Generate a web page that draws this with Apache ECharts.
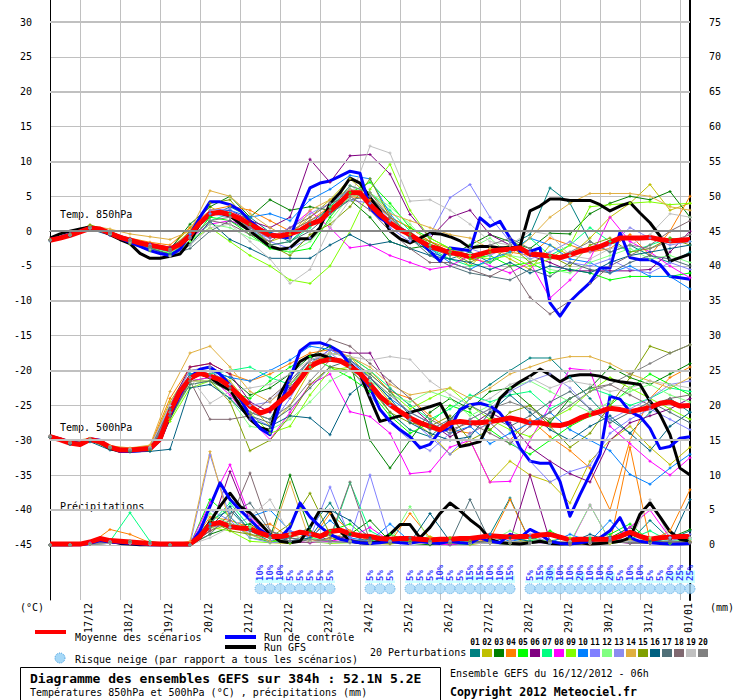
<!DOCTYPE html>
<html>
<head>
<meta charset="utf-8">
<title>Diagramme des ensembles GEFS</title>
<script src="https://cdn.jsdelivr.net/npm/echarts@6.0.0/dist/echarts.min.js"></script>
<style>
  html, body { margin: 0; padding: 0; background: #fff; }
  #chart { width: 740px; height: 700px; }
</style>
</head>
<body>
<div id="chart"></div>
<script>
// echeances (heures depuis le 16/12 06h)
var hours6 = [0,6,12,18,24,30,36,42,48,54,60,66,72,78,84,90,96,102,108,114,120,126,132,138,144,150,156,162,168,174,180,186,192,198,204,210,216,222,228,234,240,246,252,258,264,270,276,282,288,294,300,306,312,318,324,330,336,342,348,354,360,366,372,378,384];
var hours12 = [0,12,24,36,48,60,72,84,96,108,120,132,144,156,168,180,192,204,216,228,240,252,264,276,288,300,312,324,336,348,360,372,384];

// graduations
var dayHours = [18,42,66,90,114,138,162,186,210,234,258,282,306,330,354,378];
var dayLabels = ['17/12','18/12','19/12','20/12','21/12','22/12','23/12','24/12','25/12','26/12','27/12','28/12','29/12','30/12','31/12','01/01'];
var tempTicks = [-45,-40,-35,-30,-25,-20,-15,-10,-5,0,5,10,15,20,25,30];
var mmTicks = [0,5,10,15,20,25,30,35,40,45,50,55,60,65,70,75];

// moyenne / controle / GFS - 850hPa
var mean850 = [-1.3,-1.0,-0.6,-0.1,0.4,0.3,-0.3,-0.9,-1.3,-1.7,-2.0,-2.3,-2.6,-1.9,-0.6,1.2,2.5,2.7,2.4,1.8,1.0,0.2,-0.6,-0.7,-0.4,0.1,1.0,1.5,2.9,4.1,5.5,5.5,3.8,2.4,1.2,0.2,-0.5,-1.4,-2.2,-2.6,-3.1,-3.3,-3.7,-3.3,-2.9,-2.7,-2.6,-2.4,-3.3,-3.4,-3.6,-3.8,-3.4,-2.9,-2.6,-2.2,-1.6,-1.0,-1.0,-1.0,-0.9,-1.2,-1.4,-1.3,-1.2];
var ctrl850 = [-1.2,-0.9,-0.4,0.0,0.5,0.3,-0.4,-1.0,-1.6,-2.2,-2.8,-3.2,-3.5,-2.6,-0.5,2.0,4.2,4.2,3.8,3.0,1.5,0.3,-0.3,-0.8,-1.0,2.9,6.2,6.9,7.2,7.9,8.6,8.3,3.3,1.9,1.0,0.4,-0.4,-1.4,-2.9,-4.3,-2.4,-2.6,-2.8,1.9,0.7,1.4,-1.0,-2.9,-2.9,-2.4,-10.3,-12.2,-10.1,-8.7,-7.4,-5.3,-5.3,-0.2,-3.8,-4.1,-4.1,-4.8,-6.5,-6.7,-6.9];
var gfs850 = [-1.0,-0.4,0.0,0.3,0.6,0.3,-0.5,-1.2,-1.8,-3.2,-3.9,-3.9,-3.6,-3.3,-1.5,1.1,2.6,2.6,2.2,1.1,0.0,-1.1,-2.2,-2.6,-2.4,-1.1,-1.1,0.5,4.0,5.5,7.6,6.9,4.8,2.9,0.0,-1.1,-1.7,-1.0,-0.3,-0.4,-0.8,-1.4,-2.4,-2.2,-2.2,-2.4,-2.4,-2.2,2.9,3.6,4.6,4.6,4.4,4.4,4.4,3.8,2.9,3.6,4.1,2.6,1.2,-0.7,-4.3,-3.8,-3.3];

// 500hPa
var mean500 = [-29.5,-29.9,-30.4,-30.6,-29.9,-30.2,-31.0,-31.4,-31.4,-31.3,-31.2,-29.8,-25.9,-23.0,-21.1,-20.4,-20.8,-21.3,-22.3,-23.7,-25.1,-26.1,-25.6,-24.4,-23.2,-21.3,-19.4,-18.7,-18.4,-18.6,-19.4,-20.4,-22.0,-23.7,-24.9,-25.9,-26.8,-27.5,-28.0,-28.5,-27.5,-27.3,-27.5,-27.5,-27.3,-27.1,-26.8,-27.1,-27.5,-27.5,-27.8,-27.9,-27.5,-26.8,-26.3,-25.9,-25.4,-25.6,-25.9,-25.6,-25.3,-24.7,-24.5,-25.1,-25.0];
var ctrl500 = [-29.5,-29.8,-30.2,-30.5,-29.8,-30.0,-31.0,-31.6,-31.6,-31.5,-31.3,-30.0,-26.5,-23.5,-21.0,-19.8,-19.5,-20.5,-22.0,-24.0,-26.5,-28.3,-29.2,-24.9,-21.1,-17.2,-16.1,-16.0,-16.5,-17.3,-19.1,-20.6,-22.5,-25.6,-27.3,-28.5,-29.5,-31.1,-30.6,-28.7,-28.3,-25.6,-24.9,-24.7,-25.1,-26.1,-28.0,-31.1,-33.0,-33.3,-33.3,-35.9,-40.9,-37.8,-34.9,-32.0,-23.7,-24.1,-25.9,-26.6,-28.3,-31.2,-30.9,-29.7,-29.5];
var gfs500 = [-29.4,-29.8,-30.3,-30.5,-29.9,-30.3,-31.2,-31.6,-31.5,-31.4,-31.2,-30.0,-26.5,-23.2,-21.3,-20.4,-21.0,-22.0,-22.8,-25.0,-27.0,-28.2,-28.6,-23.4,-20.8,-18.7,-17.9,-17.7,-18.2,-18.6,-19.0,-20.5,-24.0,-27.3,-26.9,-26.5,-26.0,-25.6,-25.2,-24.7,-27.3,-30.9,-30.6,-30.2,-27.3,-24.0,-22.6,-21.6,-20.8,-19.8,-20.6,-21.6,-20.8,-20.6,-20.6,-20.8,-21.3,-21.6,-21.8,-22.0,-24.4,-26.3,-29.2,-34.0,-35.0];

// precipitations (mm / 6h)
var meanPr = [0.1,0.1,0.1,0.1,0.4,0.9,0.6,0.5,0.4,0.3,0.2,0.1,0.1,0.1,0.1,1.2,2.9,3.2,2.6,2.4,2.3,1.7,1.2,1.2,1.4,1.8,1.6,1.2,1.9,2.1,1.6,1.3,1.2,0.9,0.8,0.9,0.9,0.8,0.7,0.8,0.8,0.9,0.9,1.1,1.3,1.2,1.1,1.2,1.2,1.4,1.5,1.1,0.7,0.8,0.8,0.8,0.8,1.2,1.8,1.2,0.8,1.0,1.1,1.2,1.2];
var ctrlPr = [0,0,0,0,0.2,0.6,0.4,0.3,0.2,0.1,0,0,0,0,0,2.0,5.5,8.9,6.5,5.0,3.6,2.2,1.2,1.0,2.5,6.0,4.0,2.6,1.5,0.8,0.5,0.3,0.2,0.3,0.5,0.3,0.2,0.5,0.3,0.2,0.5,0.3,0.2,1.0,0.5,0.3,1.5,1.0,2.2,1.5,0.5,0.2,0.1,0.3,0.5,1.0,2.0,3.9,1.0,0.5,0.3,0.2,0.1,0.1,0.2];
var gfsPr = [0,0,0,0.1,0.3,0.7,0.5,0.2,0.1,0,0,0,0,0,0,1.0,3.3,5.5,7.4,5.5,4.6,3.1,1.5,0.5,0.3,0.5,2.5,5.0,4.8,2.0,0.5,0.3,0.2,0.5,1.5,2.9,2.9,1.0,2.5,4.5,6.0,4.9,3.6,2.5,0.8,0.3,0.2,0.1,0.3,0.5,0.2,0.1,0.2,0.3,0.1,0.2,0.3,0.5,1.0,4.4,6.0,4.0,1.9,0.8,0.5];

// 20 perturbations, pas de 12h
var pert850 = [
  [-1.2,-0.4,0.7,-0.1,-1.2,-2.2,-2.9,-0.4,2.0,3.5,2.0,-0.2,-1.5,1.0,3.5,6.0,4.0,1.5,-1.0,-3.0,-4.0,-3.0,-4.5,-2.0,-0.5,6.2,4.0,-1.5,-3.0,-2.0,-3.5,-4.5,-3.0],
  [-1.3,-0.6,0.5,-0.4,-1.4,-2.0,-2.5,0.5,3.5,2.0,0.0,-1.5,-0.5,2.0,4.5,7.5,5.0,2.0,0.5,-1.5,-3.0,-5.0,-2.5,-4.0,-5.5,-2.0,-3.5,-1.0,2.0,4.0,6.7,3.0,4.0],
  [-1.3,-0.5,0.8,-0.2,-1.6,-2.4,-2.6,1.0,3.5,5.0,2.0,4.5,3.0,3.5,3.0,4.5,2.0,-1.5,-2.5,-2.0,-3.5,-2.0,-0.5,-1.5,-2.5,-0.3,-0.4,2.5,4.0,5.0,4.5,5.7,2.0],
  [-1.2,-0.6,0.5,-0.3,-1.0,-1.6,-2.0,0.5,3.0,3.6,3.0,1.5,0.0,1.5,3.5,5.0,4.5,2.0,0.5,-1.5,-2.5,-4.0,-4.5,-3.0,-3.5,-1.0,-2.0,-3.0,-2.5,-0.5,-3.5,0.0,5.0],
  [-1.3,-0.6,0.4,-0.4,-1.6,-2.5,-3.2,-1.5,2.0,1.5,-0.5,-2.5,-3.0,-2.5,2.0,5.5,7.0,4.0,0.5,-1.0,-2.5,-4.0,-3.5,-5.0,-4.5,-6.0,-5.5,-6.0,-7.0,-6.5,-6.5,-6.5,-6.0],
  [-1.2,-0.5,0.7,-0.1,-1.1,-1.8,-2.3,-0.5,2.5,3.0,1.5,0.5,2.0,10.3,7.0,10.8,11.0,8.2,2.4,-1.0,2.0,3.0,-0.5,-2.0,-3.5,-4.5,-5.7,-5.7,-5.7,-5.7,-5.5,-3.0,0.0],
  [-1.3,-0.6,0.5,-0.3,-1.4,-2.2,-2.8,-1.0,1.5,2.5,0.5,-2.0,-1.5,0.5,3.5,6.5,5.5,3.0,0.0,-2.5,-4.0,-5.0,-4.5,-3.0,-1.0,-3.5,-2.0,0.5,-1.5,-3.0,-2.0,-1.0,-1.5],
  [-1.3,-0.6,0.4,-0.6,-1.7,-2.3,-2.9,-1.0,1.0,1.5,0.5,-1.0,0.5,2.9,0.5,-2.4,-2.0,-3.5,-4.5,-5.5,-5.0,-3.5,-5.0,-6.0,-4.5,-9.6,-7.0,-4.0,2.0,-1.5,-3.0,-5.0,-6.7],
  [-1.2,-0.5,0.6,-0.5,-1.8,-2.8,-3.5,-1.5,0.5,-1.5,-3.5,-5.0,-7.0,-7.5,-5.0,0.0,6.0,9.6,3.0,-1.0,-2.5,-3.5,-4.0,-3.5,-5.0,-4.0,-2.0,3.5,3.8,4.0,4.2,3.8,4.0],
  [-1.3,-0.6,0.5,-0.3,-1.3,-2.3,-3.0,-0.5,2.5,3.0,2.0,2.5,1.5,4.5,6.0,8.0,7.5,2.5,-1.0,-2.5,-4.5,-5.5,-4.0,-3.0,-1.0,-2.0,-4.0,-4.5,-6.0,-5.0,-6.5,-6.5,-8.3],
  [-1.3,-0.5,0.6,-0.3,-1.2,-2.0,-2.6,-0.3,3.0,3.2,0.5,-1.5,-2.5,-1.0,2.5,4.5,4.0,0.5,-1.5,-0.5,4.8,6.7,2.0,-1.5,-3.0,-3.5,-4.5,-5.0,-4.0,-5.5,-6.0,-4.5,-5.5],
  [-1.3,-0.6,0.4,-0.5,-1.5,-2.4,-3.1,-1.5,1.0,0.5,-1.0,-2.0,-3.0,-1.5,1.5,5.0,5.5,3.5,1.0,-2.0,-3.5,-2.5,-1.0,-3.5,-4.0,-5.5,-6.0,-4.5,-3.5,-2.5,-4.0,-3.5,-4.5],
  [-1.3,-0.6,0.5,-0.2,-1.2,-2.0,-2.7,-0.8,2.5,2.0,0.0,-1.0,0.5,2.5,4.0,6.0,5.0,1.5,-0.5,-2.5,-3.0,-2.5,-3.5,-2.0,-4.0,-3.0,-1.5,-3.0,-2.0,0.5,-1.0,-2.0,-1.5],
  [-1.3,-0.4,0.8,0.3,-0.4,-0.8,-1.2,0.0,5.8,5.0,2.5,0.5,-1.0,3.0,4.5,6.0,5.5,2.5,1.5,0.5,-0.5,-1.0,-2.5,-3.5,-1.0,2.0,4.0,5.4,5.4,5.4,5.0,3.5,3.0],
  [-1.2,-0.5,0.9,0.0,-1.3,-2.2,-2.7,0.0,4.0,4.5,1.0,-2.0,-3.5,-0.5,1.0,3.5,7.5,2.0,-0.5,-1.5,-3.0,-4.5,-3.0,-2.0,-4.5,-3.5,-5.0,-2.0,-1.0,-3.0,-2.5,-1.0,-2.0],
  [-1.4,-0.7,0.3,-0.6,-1.6,-2.6,-3.3,-2.0,1.4,-1.2,-2.5,-3.9,-3.9,-3.9,-2.0,-0.5,-2.0,-1.5,-2.5,-3.5,-4.0,-4.5,-5.5,-4.5,-6.0,-5.0,-5.5,-6.0,-4.5,-3.5,-3.0,-2.5,-2.0],
  [-1.3,-0.6,0.4,-0.4,-1.5,-2.4,-3.4,-2.5,0.0,1.5,0.0,-2.0,-1.5,0.0,2.5,4.5,5.0,2.0,-1.0,-3.5,-5.0,-6.0,-6.5,-7.0,-5.5,-6.5,-4.5,-5.5,-6.0,-4.5,-3.5,-4.0,-5.0],
  [-1.3,-0.6,0.5,-0.3,-1.4,-2.2,-2.8,-1.0,1.5,1.0,-0.5,-1.5,0.5,2.0,4.0,5.0,3.0,0.0,-2.5,-4.5,-4.5,-5.5,-6.5,-5.0,-9.5,-11.9,-10.0,-7.5,-5.0,-3.5,-2.0,0.0,1.5],
  [-1.3,-0.6,0.4,-0.4,-1.6,-2.6,-3.6,-2.0,0.5,1.0,-1.5,-4.0,-7.5,-5.5,0.5,4.5,12.2,11.2,4.3,4.5,3.0,1.0,-1.5,-2.0,0.0,-0.5,-3.5,-4.0,-2.5,-2.0,-0.5,2.5,2.0],
  [-1.3,-0.6,0.5,-0.3,-1.4,-2.3,-2.9,-1.0,1.5,2.0,0.5,-1.0,0.0,1.5,3.0,6.5,5.5,2.0,-1.0,-2.5,-3.5,-2.5,-2.0,-1.0,-2.5,-4.0,-3.0,-1.5,-3.0,-2.0,-2.5,-1.5,-0.5]
];
var pert500 = [
  [-29.4,-30.3,-29.8,-31.0,-31.5,-31.3,-26.5,-21.0,-20.0,-22.5,-26.0,-27.0,-22.0,-18.5,-18.0,-19.0,-22.0,-26.0,-28.5,-29.5,-27.0,-24.0,-22.0,-20.0,-18.2,-18.2,-21.0,-24.0,-27.0,-29.0,-26.0,-24.0,-26.0],
  [-29.5,-30.4,-29.9,-31.0,-31.3,-31.0,-24.5,-20.0,-19.5,-21.5,-25.0,-28.0,-25.0,-20.0,-17.5,-18.0,-21.0,-24.5,-27.0,-29.0,-32.0,-30.0,-36.0,-33.0,-35.0,-36.0,-39.0,-33.0,-30.0,-28.0,-31.0,-33.5,-31.0],
  [-29.6,-30.5,-30.0,-31.1,-31.4,-31.2,-25.5,-20.5,-20.0,-21.0,-23.5,-22.5,-20.5,-18.0,-16.5,-18.5,-30.0,-34.0,-30.0,-26.0,-24.0,-25.5,-23.0,-22.5,-25.0,-27.5,-24.0,-22.5,-19.5,-21.0,-22.0,-20.5,-19.0],
  [-29.5,-30.3,-29.8,-30.9,-31.2,-30.8,-24.0,-19.5,-19.0,-20.5,-21.5,-20.5,-19.0,-17.5,-17.0,-18.0,-20.0,-23.0,-24.0,-26.5,-28.5,-29.0,-27.5,-30.0,-27.0,-29.5,-31.5,-34.0,-40.0,-30.0,-24.0,-21.0,-19.5],
  [-29.5,-30.4,-29.9,-31.1,-31.5,-31.3,-26.5,-21.5,-21.0,-23.0,-24.0,-21.5,-19.5,-18.0,-19.5,-21.0,-23.0,-26.5,-29.0,-27.5,-25.0,-26.0,-28.5,-30.5,-32.0,-30.0,-28.0,-26.5,-25.0,-22.5,-20.5,-22.0,-23.5],
  [-29.4,-30.3,-29.8,-30.9,-31.3,-31.1,-25.0,-19.5,-19.0,-20.5,-24.5,-26.0,-22.5,-19.0,-17.0,-17.5,-17.5,-22.6,-25.0,-27.5,-29.5,-28.0,-26.0,-27.5,-31.0,-33.0,-34.8,-36.0,-30.0,-27.5,-26.5,-25.5,-24.0],
  [-29.5,-30.4,-29.9,-31.0,-31.4,-31.2,-26.0,-20.5,-20.5,-20.0,-19.5,-21.0,-22.0,-19.5,-17.5,-18.0,-20.0,-22.5,-25.0,-27.0,-25.5,-23.5,-24.5,-23.5,-23.0,-25.5,-24.0,-22.5,-23.5,-25.0,-24.0,-22.5,-23.0],
  [-29.6,-30.5,-30.0,-31.2,-31.6,-31.3,-26.5,-21.5,-21.0,-23.5,-27.0,-29.9,-26.0,-22.0,-20.5,-25.9,-26.6,-29.0,-34.8,-34.5,-31.0,-30.0,-36.0,-35.9,-30.0,-25.0,-19.7,-20.0,-28.0,-30.5,-33.0,-35.0,-32.5],
  [-29.5,-30.4,-30.0,-31.2,-31.6,-31.5,-27.3,-22.5,-21.5,-23.0,-26.0,-29.0,-28.0,-23.5,-20.0,-19.5,-20.5,-23.0,-25.5,-24.0,-22.5,-25.0,-27.0,-28.5,-29.5,-27.0,-25.5,-23.0,-21.0,-22.5,-24.0,-25.5,-27.0],
  [-29.5,-30.4,-29.9,-31.0,-31.4,-31.1,-25.5,-20.5,-20.0,-21.0,-21.5,-20.0,-18.5,-16.5,-17.0,-18.5,-21.0,-24.0,-26.0,-27.5,-29.0,-28.0,-30.5,-29.0,-27.5,-26.0,-28.5,-30.0,-31.5,-34.9,-36.3,-34.0,-32.0],
  [-29.5,-30.3,-29.9,-31.0,-31.3,-31.0,-25.0,-20.0,-19.5,-22.0,-26.5,-28.0,-24.0,-19.0,-17.0,-18.5,-21.5,-25.0,-27.0,-29.5,-32.0,-29.0,-27.5,-30.0,-33.0,-36.0,-34.5,-33.6,-29.0,-27.0,-25.5,-27.0,-28.5],
  [-29.5,-30.4,-29.9,-31.0,-31.5,-31.3,-27.0,-22.0,-21.5,-24.0,-28.0,-28.5,-27.0,-24.5,-21.5,-20.0,-21.5,-23.5,-24.5,-23.0,-24.0,-26.5,-25.0,-22.5,-21.5,-23.0,-24.5,-26.0,-24.5,-23.0,-22.0,-23.5,-24.5],
  [-29.5,-30.4,-29.9,-31.1,-31.4,-31.2,-26.0,-21.0,-20.0,-22.0,-25.0,-24.5,-21.5,-18.5,-17.5,-19.5,-23.5,-27.5,-30.0,-31.5,-29.0,-27.0,-25.5,-23.0,-21.5,-20.5,-22.5,-25.5,-27.0,-25.5,-24.0,-22.0,-21.5],
  [-29.4,-30.2,-29.7,-30.8,-31.1,-30.7,-23.0,-17.5,-16.5,-19.5,-23.0,-24.5,-22.0,-19.0,-17.5,-18.0,-19.5,-22.0,-23.5,-23.0,-22.5,-24.0,-22.5,-20.5,-19.5,-18.5,-18.0,-18.0,-19.0,-20.5,-21.5,-22.5,-21.0],
  [-29.6,-30.5,-30.0,-31.2,-31.6,-31.4,-27.0,-21.5,-21.5,-24.5,-31.5,-30.0,-26.5,-22.0,-19.5,-20.0,-22.5,-26.0,-27.5,-28.0,-26.5,-30.0,-28.5,-26.0,-25.0,-28.0,-31.0,-29.0,-25.0,-21.0,-16.5,-17.5,-16.3],
  [-29.6,-30.6,-30.2,-31.4,-31.7,-31.6,-31.3,-22.5,-22.0,-24.0,-27.0,-28.0,-26.5,-26.8,-29.2,-23.4,-21.0,-24.0,-27.5,-29.0,-30.0,-29.5,-26.0,-23.5,-26.0,-28.5,-30.0,-28.0,-26.5,-29.0,-31.5,-28.0,-26.0],
  [-29.5,-30.4,-30.0,-31.1,-31.5,-31.3,-26.5,-22.0,-21.5,-23.0,-26.5,-27.5,-25.5,-22.5,-19.5,-18.5,-20.5,-23.0,-26.5,-28.5,-27.0,-25.0,-26.5,-28.0,-26.5,-24.5,-23.0,-25.5,-27.5,-26.0,-24.5,-26.0,-27.5],
  [-29.5,-30.3,-29.9,-31.0,-31.4,-31.1,-25.5,-21.5,-27.0,-27.0,-26.5,-24.0,-21.5,-18.5,-15.5,-16.5,-19.0,-21.5,-24.0,-27.0,-28.5,-27.5,-29.0,-30.5,-28.0,-26.0,-24.0,-22.5,-22.0,-23.5,-25.0,-24.0,-23.5],
  [-29.5,-30.4,-29.9,-31.0,-31.3,-31.0,-25.0,-21.0,-24.7,-23.0,-22.5,-22.0,-20.5,-18.5,-17.5,-18.0,-18.5,-18.0,-18.4,-21.5,-23.5,-25.0,-24.0,-22.0,-21.0,-22.5,-21.5,-22.0,-23.0,-22.5,-21.5,-22.0,-22.5],
  [-29.5,-30.4,-29.9,-31.0,-31.4,-31.2,-26.0,-21.0,-20.5,-22.5,-26.0,-27.0,-25.0,-21.5,-18.5,-19.0,-21.0,-23.5,-26.0,-27.5,-29.0,-27.0,-25.5,-24.5,-25.5,-27.0,-25.0,-23.0,-22.0,-20.5,-19.0,-17.5,-16.3]
];
var pertPr = [
  [0,0,0.2,0.3,0.5,0.2,0,0,3.5,5.0,2.0,0.5,1.0,2.5,6.0,1.5,0.3,0.5,1.0,0.2,0,0.5,1.5,6.7,0.5,0.2,0,0.3,1.2,0.5,3.5,0.8,2.0],
  [0,0,0.1,0.4,0.3,0.1,0,0,2.0,3.0,1.5,0.3,0.2,2.0,1.0,0.5,0.2,0.1,0.5,1.2,0.3,0,0.4,0.2,1.0,0.5,0,0.2,0.5,0.3,0.8,0.2,0.4],
  [0,0,0.2,0.2,0.4,0.2,0,0,1.5,2.5,3.0,1.0,10.0,2.0,0.5,1.5,3.5,0.5,0.2,0,0.3,0.5,0.2,0.1,0.3,0.6,0.2,0.5,1.0,2.5,0.3,1.0,2.2],
  [0,0,0.1,2.2,1.5,0.3,0,0,4.0,3.5,2.5,3.0,1.0,0.5,4.5,2.0,0.5,0.3,4.5,1.0,0.2,0.3,0.8,6.5,0.5,0.2,0.3,0.1,0.2,14.0,0.5,2.0,7.9],
  [0,0,0.2,0.3,0.5,0.2,0,0,6.5,4.0,1.0,0.5,0.3,1.0,2.0,3.0,0.5,1.5,0.5,0.3,0,0.2,0.5,0.3,0.5,2.0,0.5,0.8,1.5,3.0,0.5,0.2,1.0],
  [0,0,0.1,0.2,0.4,0.2,0,0,2.0,10.5,3.5,1.0,0.5,0.3,1.5,0.8,0.3,0.5,0.2,0.2,0.1,0.3,0.2,0.5,10.0,0.5,0.2,0.3,0.5,0.2,0.4,0.5,0.3],
  [0,0,0.2,0.5,4.6,0.5,0,0,3.0,6.0,2.5,1.0,0.5,1.0,0.5,8.9,2.0,0.5,0.3,0.5,0.2,0.1,0.5,0.3,0.6,0.2,0.4,1.0,0.5,0.8,2.0,0.5,0.8],
  [0,0,0.3,0.5,0.3,0.1,0,0,6.0,11.5,4.0,1.5,0.5,0.3,0.5,1.0,2.5,0.5,0.3,0.2,0,0.3,0.2,0.5,0.3,0.2,0.1,5.7,0.5,2.5,5.0,1.0,0.5],
  [0,0,0.1,0.2,0.3,0.2,0,0,2.5,2.0,0.5,0.3,1.5,0.5,0.2,0.3,0.5,0.3,0.2,0.5,1.0,0.3,0.2,0.5,0.3,0.6,1.0,0.3,0.2,0.5,0.3,0.5,0.4],
  [0,0,0.2,0.4,0.5,0.2,0,0,3.0,2.5,4.0,5.0,2.0,1.0,3.5,1.0,0.5,3.0,0.5,0.2,0.5,0.3,1.5,0.5,1.0,0.3,1.5,0.5,3.5,0.5,0.3,1.0,0.5],
  [0,0,0.2,0.3,0.5,0.3,0,0,12.9,4.0,1.5,0.5,2.0,1.0,8.3,1.0,10.0,0.5,0.3,0.5,0.2,0.4,0.3,0.5,1.5,0.3,0.5,0.2,1.0,0.5,0.3,0.5,1.5],
  [0,0,0.1,0.3,0.4,0.2,0,0,4.5,3.0,2.5,1.0,0.5,0.8,1.5,0.5,0.3,0.5,5.5,0.5,0.3,0.2,0.5,2.0,0.8,0.5,0.3,5.7,0.5,0.3,1.0,0.5,0.8],
  [0,0,0.2,0.2,0.3,0.2,0,0,5.0,3.5,1.0,0.3,0.5,1.5,0.5,0.3,0.8,0.5,0.3,0.2,0.5,0.3,0.2,0.5,0.3,0.2,0.5,0.3,0.8,0.5,0.3,0.6,1.0],
  [0,0,0.2,0.4,0.5,0.2,0,0.5,13.4,3.0,1.5,0.5,9.0,0.5,0.8,2.0,0.5,0.3,0.5,0.3,0.2,0.5,0.3,0.2,0.5,0.3,0.2,0.5,0.3,0.6,0.4,0.3,0.5],
  [0,0,0.1,0.3,0.4,0.2,0,0,3.5,2.0,1.5,1.0,3.0,7.4,1.5,0.5,0.3,0.2,0.5,0.3,1.0,0.5,0.3,0.5,0.2,0.5,0.3,0.2,0.5,0.8,0.3,0.5,0.4],
  [0,0,0.1,0.2,0.3,0.2,0,0,2.5,5.5,2.0,1.5,0.5,1.0,5.0,3.5,1.0,0.5,0.3,4.5,0.5,0.3,0.5,1.0,0.5,0.2,0.3,1.5,0.5,0.3,0.5,0.3,6.5],
  [0,0,0.2,0.3,0.4,0.2,0,0,1.5,4.5,6.0,2.0,1.0,0.5,0.3,0.5,0.8,0.3,0.2,0.5,0.3,6.5,0.5,0.3,0.2,0.5,0.3,0.2,0.5,0.3,0.2,0.5,0.3],
  [0,0,0.1,0.2,0.3,0.1,0,0,2.0,3.5,10.3,2.0,0.5,0.3,1.0,9.0,0.5,0.3,1.0,0.5,0.2,0.3,0.5,0.2,0.3,0.5,0.2,0.3,0.5,0.3,0.2,0.5,0.3],
  [0,0,0.1,0.2,0.2,0.1,0,0,1.0,2.5,4.0,6.5,1.5,0.5,0.3,0.5,0.3,0.5,0.2,0.3,0.5,0.2,0.3,0.5,0.2,0.3,0.5,0.2,0.3,0.5,6.5,1.0,1.0],
  [0,0,0.2,0.3,0.3,0.2,0,0,2.5,3.0,2.0,1.0,0.5,0.8,0.5,0.3,0.5,0.3,0.2,0.5,0.3,0.2,0.5,0.3,0.2,0.5,0.3,0.2,0.5,0.3,0.2,0.5,0.3]
];
var pertColors = ['#008080','#c0c000','#008000','#ff8000','#00ff00','#800080','#00ff80','#ff00ff','#80ff00','#0080ff',
                  '#8080ff','#80ff80','#8c8cf0','#e0b040','#80a000','#006080','#507078','#806870','#c0c0c0','#808080'];

// risque neige (%)
var snowHours = [126,132,138,144,150,156,162,168, 192,198,204, 216,222,228,234,240,246,252,258,264,270,276,
                 288,294,300,306,312,318,324,330,336,342,348,354,360,366,372,378,384];
var snowPct = [10,10,10,5,5,5,5,5, 5,5,5, 5,5,5,10,5,5,15,15,10,10,15,
               5,15,30,10,10,20,10,10,20,5,10,10,5,5,20,25,25];

var MONO = "'DejaVu Sans Mono', monospace";
var PLUS = 'path://M1,0H2V1H3V2H2V3H1V2H0V1H1Z';

function pairs(hours, values) {
    return values.map(function (v, i) { return [hours[i], v]; });
}

var echart = echarts.init(document.getElementById('chart'), null, { renderer: 'svg' });

var series = [];

// lignes epaisses de la grille (tous les 10 degres) + ligne du zero
series.push({
    type: 'line', yAxisIndex: 0, data: [], silent: true,
    markLine: {
        silent: true, symbol: ['none', 'none'], label: { show: false },
        lineStyle: { color: '#c0c0c0', width: 2, type: 'solid' },
        data: [
            { yAxis: 30 }, { yAxis: 20 }, { yAxis: 10 }, { yAxis: -10 },
            { yAxis: -20 }, { yAxis: -30 }, { yAxis: -40 },
            { yAxis: 0, lineStyle: { color: '#888888', width: 2 } }
        ]
    }
});

// bande cyan du risque neige
series.push({
    type: 'bar', yAxisIndex: 2, barWidth: 10, silent: true,
    itemStyle: { color: '#ccffff' },
    data: pairs(snowHours, snowPct)
});
// flocons
series.push({
    type: 'scatter', yAxisIndex: 0, silent: true, symbol: 'circle', symbolSize: 10,
    itemStyle: { color: '#a6d8f7', borderColor: '#3d9be0', borderWidth: 1, borderType: 'dotted' },
    data: snowHours.map(function (h) { return [h, -51.3]; })
});
// pourcentages
series.push({
    type: 'scatter', yAxisIndex: 0, silent: true, symbolSize: 1,
    itemStyle: { color: 'transparent' },
    label: {
        show: true, position: 'inside', rotate: 90, align: 'left', verticalAlign: 'middle',
        color: '#0000ff', fontFamily: MONO, fontSize: 9, fontWeight: 'bold',
        formatter: function (p) { return p.value[2] + '%'; }
    },
    data: snowHours.map(function (h, i) { return [h, -50.2, snowPct[i]]; })
});

// perturbations
function pertLine(values, yIdx, color) {
    return {
        type: 'line', yAxisIndex: yIdx, silent: true,
        symbol: PLUS, symbolSize: 3, showSymbol: true,
        lineStyle: { width: 1, color: color },
        itemStyle: { color: color },
        data: pairs(hours12, values)
    };
}
for (var i = 0; i < 20; i++) {
    series.push(pertLine(pertPr[i], 1, pertColors[i]));
    series.push(pertLine(pert500[i], 0, pertColors[i]));
    series.push(pertLine(pert850[i], 0, pertColors[i]));
}

// run GFS, run de controle, moyenne
function mainLine(values, yIdx, color, width) {
    return {
        type: 'line', yAxisIndex: yIdx, silent: true, symbol: 'none',
        lineStyle: { width: width, color: color, join: 'round' },
        data: pairs(hours6, values)
    };
}
series.push(mainLine(gfsPr, 1, '#000000', 3));
series.push(mainLine(gfs500, 0, '#000000', 3));
series.push(mainLine(gfs850, 0, '#000000', 3));
series.push(mainLine(ctrlPr, 1, '#0000ff', 3));
series.push(mainLine(ctrl500, 0, '#0000ff', 3));
series.push(mainLine(ctrl850, 0, '#0000ff', 3));
series.push(mainLine(meanPr, 1, '#ff0000', 5));
series.push(mainLine(mean500, 0, '#ff0000', 5));
series.push(mainLine(mean850, 0, '#ff0000', 5));

// textes et legende
function txt(x, y, s, font, align) {
    return { type: 'text', x: x, y: y, silent: true,
             style: { text: s, font: font, fill: '#000', align: align || 'left', verticalAlign: 'middle' } };
}
var F10 = '10px ' + MONO;
var graphics = [
    txt(60, 214, 'Temp. 850hPa', F10),
    txt(60, 427, 'Temp. 500hPa', F10),
    txt(60, 506, 'Précipitations', F10),
    txt(20, 607, '(°C)', F10),
    txt(710, 607, '(mm)', F10),
    { type: 'rect', shape: { x: 35, y: 630, width: 31, height: 4 }, style: { fill: '#ff0000' } },
    txt(75, 637, 'Moyenne des scénarios', F10),
    { type: 'rect', shape: { x: 225, y: 635, width: 31, height: 4 }, style: { fill: '#0000ff' } },
    txt(264, 637, 'Run de contrôle', F10),
    { type: 'rect', shape: { x: 225, y: 645, width: 31, height: 4 }, style: { fill: '#000000' } },
    txt(264, 647, 'Run GFS', F10),
    { type: 'circle', shape: { cx: 60, cy: 658, r: 5 },
      style: { fill: '#a6d8f7', stroke: '#3d9be0', lineWidth: 1, lineDash: [1, 1] } },
    txt(75, 659, 'Risque neige (par rapport a tous les scénarios)', F10),
    txt(370, 652, '20 Perturbations', F10),
    { type: 'rect', shape: { x: 20.5, y: 667.5, width: 420, height: 40 },
      style: { fill: 'none', stroke: '#000', lineWidth: 1 } },
    txt(30, 678, 'Diagramme des ensembles GEFS sur 384h : 52.1N 5.2E', 'bold 13px ' + MONO),
    txt(30, 692, 'Températures 850hPa et 500hPa (°C) , précipitations (mm)', F10),
    txt(450, 673, 'Ensemble GEFS du 16/12/2012 - 06h', F10),
    txt(450, 692, 'Copyright 2012 Meteociel.fr', 'bold 11.5px ' + MONO)
];
for (var j = 0; j < 20; j++) {
    graphics.push({ type: 'rect', shape: { x: 470 + 12 * j, y: 649, width: 10, height: 8 },
                    style: { fill: pertColors[j] } });
    graphics.push(txt(475 + 12 * j, 642, (j < 9 ? '0' : '') + (j + 1), 'bold 8px ' + MONO, 'center'));
}

var LABEL_SHIFT = 4.8; // decale les dates a droite du trait du jour

var option = {
    animation: false,
    backgroundColor: '#ffffff',
    grid: { left: 50, right: 50, top: 0, bottom: 100 },
    xAxis: {
        type: 'value', min: 0, max: 384,
        axisLine: { show: true, lineStyle: { color: '#000', width: 1 } },
        axisTick: { show: false, customValues: dayHours },
        splitLine: { show: true, lineStyle: { color: '#c0c0c0', width: 1 } },
        axisLabel: {
            customValues: dayHours.map(function (h) { return h + LABEL_SHIFT; }),
            rotate: 90, margin: 3, color: '#000', fontFamily: MONO, fontSize: 10,
            formatter: function (v) { return dayLabels[Math.round((v - 18 - LABEL_SHIFT) / 24)] || ''; }
        }
    },
    yAxis: [
        {
            type: 'value', min: -52.92, max: 33.16, position: 'left',
            axisLine: { show: true, lineStyle: { color: '#000', width: 1 } },
            axisTick: { show: false, customValues: tempTicks },
            splitLine: { show: true, lineStyle: { color: '#c0c0c0', width: 1 } },
            axisLabel: { customValues: tempTicks, margin: 18, color: '#000', fontFamily: MONO, fontSize: 10 }
        },
        {
            type: 'value', min: -7.92, max: 78.16, position: 'right',
            axisLine: { show: true, lineStyle: { color: '#000', width: 2 } },
            axisTick: { show: false, customValues: mmTicks },
            splitLine: { show: false },
            axisLabel: { customValues: mmTicks, margin: 19, color: '#000', fontFamily: MONO, fontSize: 10 }
        },
        { type: 'value', min: -34, max: 1166, show: false }
    ],
    graphic: { elements: graphics },
    series: series
};

echart.setOption(option);
</script>
</body>
</html>
